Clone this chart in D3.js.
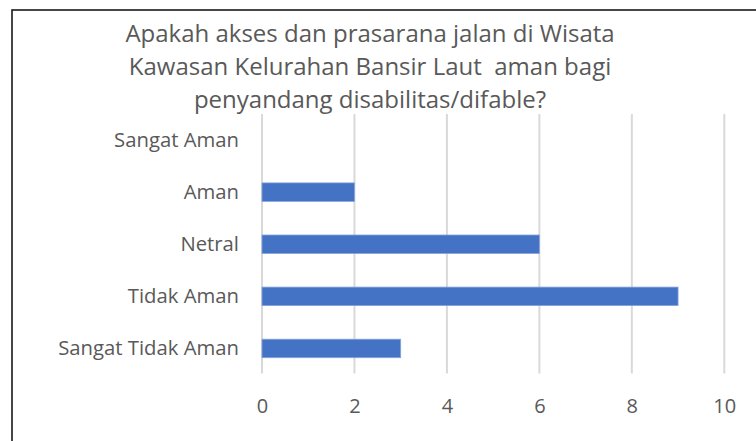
<!DOCTYPE html>
<html>
<head>
<meta charset="utf-8">
<script src="https://cdn.jsdelivr.net/npm/d3@7"></script>
<style>
  html, body { margin: 0; padding: 0; background: #fff; }
  svg { display: block; }
  text { font-family: "Open Sans", "Noto Sans", sans-serif; fill: #595959; }
</style>
</head>
<body>
<svg id="chart" width="756" height="441"></svg>
<script>
// Survey answers, top to bottom as shown
const categories = ["Sangat Aman", "Aman", "Netral", "Tidak Aman", "Sangat Tidak Aman"];
const responses = [0, 2, 6, 9, 3];
const xTicks = [0, 2, 4, 6, 8, 10];
const titleLines = [
  "Apakah akses dan prasarana jalan di Wisata",
  "Kawasan Kelurahan Bansir Laut  aman bagi",
  "penyandang disabilitas/difable?"
];

const svg = d3.select("#chart");
const W = 756, H = 441;

// Chart frame
svg.append("rect")
  .attr("x", 12).attr("y", 10)
  .attr("width", W + 20).attr("height", H + 20)
  .attr("fill", "#fff")
  .attr("stroke", "#1a1a1a")
  .attr("stroke-width", 1.6);

// Title
const title = svg.append("text")
  .attr("text-anchor", "middle")
  .attr("font-size", 24);
title.selectAll("tspan")
  .data(titleLines)
  .join("tspan")
  .attr("x", 370)
  .attr("y", (d, i) => 42 + i * 33)
  .style("white-space", "pre")
  .text(d => d);

const x = d3.scaleLinear().domain([0, 10]).range([262, 724.3]);
const pInner = 0.645;
const y = d3.scaleBand()
  .domain(categories)
  .range([114, 374.5])
  .paddingInner(pInner)
  .paddingOuter(pInner / 2);

// Vertical gridlines
svg.append("g")
  .selectAll("line")
  .data(xTicks)
  .join("line")
  .attr("x1", d => x(d)).attr("x2", d => x(d))
  .attr("y1", 114).attr("y2", 373.5)
  .attr("stroke", "#d9d9d9")
  .attr("stroke-width", 2);

// Bars
svg.append("g")
  .selectAll("rect")
  .data(categories.map((c, i) => ({ c, v: responses[i] })).filter(d => d.v > 0))
  .join("rect")
  .attr("x", x(0))
  .attr("y", d => y(d.c))
  .attr("width", d => x(d.v) - x(0))
  .attr("height", y.bandwidth())
  .attr("fill", "#4472c4")
  .attr("stroke", "#86a3da")
  .attr("stroke-width", 0.8);

// Category axis
const yAxis = d3.axisLeft(y).tickSize(0).tickPadding(0);
const gy = svg.append("g")
  .attr("transform", "translate(239,0)")
  .call(yAxis);
gy.select(".domain").remove();
gy.selectAll("text")
  .attr("font-size", 20.3)
  .attr("fill", "#595959")
  .style("font-family", "'Open Sans', sans-serif");

// Value axis labels
const xAxis = d3.axisBottom(x).tickValues(xTicks).tickSize(0).tickPadding(0);
const gx = svg.append("g")
  .attr("transform", "translate(0,399)")
  .call(xAxis);
gx.select(".domain").remove();
gx.selectAll("text")
  .attr("font-size", 20)
  .attr("fill", "#595959")
  .style("font-family", "'Open Sans', sans-serif");
</script>
</body>
</html>
